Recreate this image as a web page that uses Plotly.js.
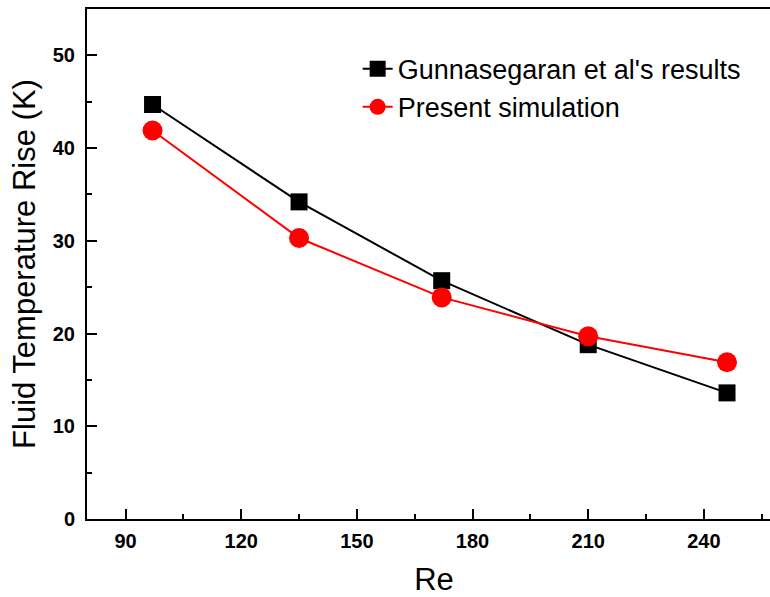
<!DOCTYPE html>
<html>
<head>
<meta charset="utf-8">
<script src="https://cdn.plot.ly/plotly-3.0.1.min.js"></script>
<style>
html, body { margin: 0; padding: 0; overflow: hidden; background: #fff; }
#chart { width: 800px; height: 597px; }
</style>
</head>
<body>
<div id="chart"></div>
<script>
// Data
const reValues = [97, 135, 172, 210, 246];
const gunnasegaran = [44.7, 34.2, 25.7, 18.8, 13.6];
const present = [41.9, 30.3, 23.9, 19.7, 16.9];
const seriesNames = ["Gunnasegaran et al's results", "Present simulation"];
const xTicks = [90, 120, 150, 180, 210, 240];
const yTicks = [0, 10, 20, 30, 40, 50];

const traces = [
  {
    x: reValues, y: gunnasegaran, name: seriesNames[0],
    type: 'scatter', mode: 'lines+markers',
    line: { color: '#000000', width: 2 },
    marker: { symbol: 'square', size: 17, color: '#000000' }
  },
  {
    x: reValues, y: present, name: seriesNames[1],
    type: 'scatter', mode: 'lines+markers',
    line: { color: '#ff0000', width: 2 },
    marker: { symbol: 'circle', size: 20, color: '#ff0000' }
  }
];

const tickFont = { family: 'Liberation Sans, Arial, sans-serif', size: 20, color: '#000', weight: 'bold' };
const bold = v => '<b>' + v + '</b>';

const layout = {
  width: 800, height: 597,
  margin: { l: 87, r: 19, t: 9, b: 78 },
  paper_bgcolor: '#fff', plot_bgcolor: '#fff',
  showlegend: true,
  legend: {
    x: 0.39, y: 0.93, xanchor: 'left', yanchor: 'top',
    bgcolor: 'rgba(0,0,0,0)',
    font: { family: 'Liberation Sans, Arial, sans-serif', size: 27, color: '#000' },
    tracegroupgap: 0
  },
  xaxis: {
    range: [80, 260],
    tickmode: 'array', tickvals: xTicks, ticktext: xTicks.map(bold),
    ticks: 'inside', ticklen: 10, tickwidth: 2, tickcolor: '#000',
    minor: { dtick: 15, tick0: 75, ticks: 'inside', ticklen: 5, tickwidth: 2, tickcolor: '#000' },
    showline: true, linecolor: '#000', linewidth: 2, mirror: true,
    showgrid: false, zeroline: false,
    ticklabelstandoff: 3,
    tickfont: tickFont,
    title: { text: 'Re', font: { family: 'Liberation Sans, Arial, sans-serif', size: 31, color: '#000' }, standoff: 26 }
  },
  yaxis: {
    range: [0, 55],
    tickmode: 'array', tickvals: yTicks, ticktext: yTicks.map(bold),
    ticks: 'inside', ticklen: 10, tickwidth: 2, tickcolor: '#000',
    minor: { dtick: 5, tick0: 0, ticks: 'inside', ticklen: 5, tickwidth: 2, tickcolor: '#000' },
    showline: true, linecolor: '#000', linewidth: 2, mirror: true,
    showgrid: false, zeroline: false,
    ticklabelstandoff: 6,
    tickfont: tickFont,
    title: { text: 'Fluid Temperature Rise (K)', font: { family: 'Liberation Sans, Arial, sans-serif', size: 31, color: '#000' }, standoff: 8 }
  }
};

Plotly.newPlot('chart', traces, layout, { displayModeBar: false, staticPlot: true });
</script>
</body>
</html>
